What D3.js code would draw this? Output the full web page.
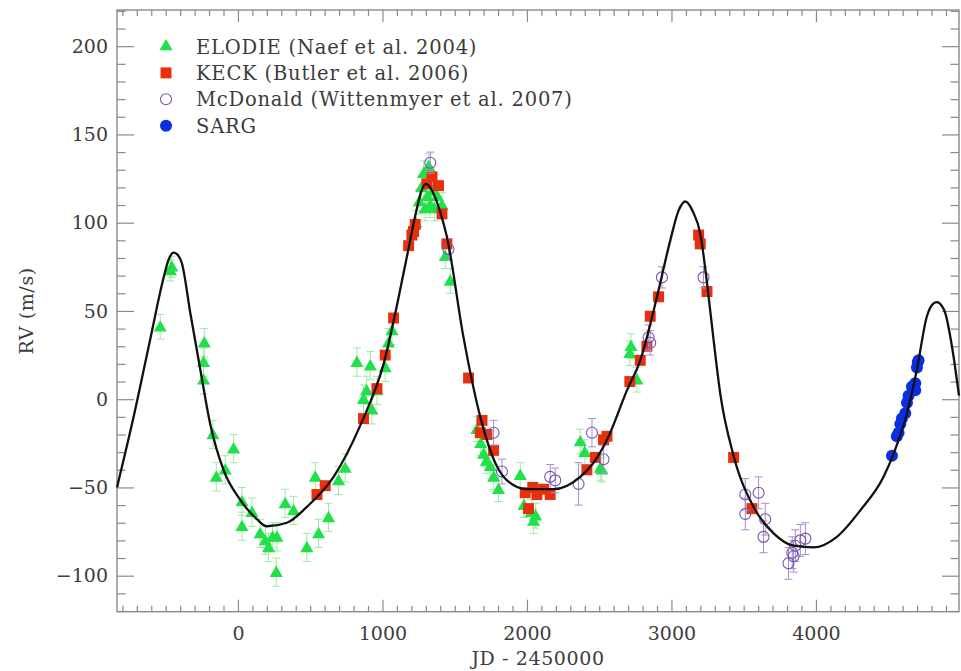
<!DOCTYPE html>
<html>
<head>
<meta charset="utf-8">
<script src="https://cdn.jsdelivr.net/npm/d3@7"></script>
<style>
  html, body { margin: 0; padding: 0; background: #fff; }
  svg { display: block; }
  text { font-family: "DejaVu Serif", serif; fill: #3c3c3c; }
</style>
</head>
<body>
<svg id="chart" width="961" height="671"></svg>
<script>
// Radial-velocity measurements: [JD - 2450000, RV (m/s), error (m/s)]
const elodie = [
  [-538, 41, 7], [-467, 73, 6], [-458, 75, 6], [-233, 32, 8], [-238, 21, 8], [-238, 11, 8],
  [-173, -20, 8], [-150, -44, 8], [-88, -40, 8], [-30, -28, 8], [28, -58, 8], [28, -72, 8],
  [97, -64, 8], [154, -76, 8], [190, -80, 8], [212, -84, 8], [240, -78, 8], [270, -78, 8],
  [265, -98, 8], [327, -59, 8], [385, -63, 8], [477, -84, 8], [535, -44, 8], [558, -76, 8],
  [627, -67, 8], [696, -46, 8], [742, -39, 8], [823, 21, 8], [916, 19, 8], [869, 0, 8],
  [890, 5, 8], [927, -6, 8], [962, 5, 8], [1019, 18, 8], [1042, 32, 8], [1066, 39, 8],
  [1230, 100, 7], [1255, 112, 7], [1270, 120, 7], [1285, 128, 7], [1295, 108, 7], [1310, 115, 7],
  [1320, 132, 7], [1330, 110, 7], [1345, 118, 7], [1360, 108, 7], [1380, 115, 7], [1412, 110, 7],
  [1435, 81, 7], [1469, 67, 7], [1654, -17, 7], [1680, -25, 7], [1700, -31, 7], [1720, -35, 7],
  [1746, -38, 7], [1770, -44, 7], [1803, -51, 7], [1954, -43, 7], [1980, -60, 7], [2030, -64, 7],
  [2046, -69, 7], [2060, -66, 7], [2369, -24, 7], [2400, -30, 7], [2508, -39, 7], [2519, -40, 7],
  [2712, 26, 7], [2720, 30, 7], [2761, 11, 7]
];
const keck = [
  [547, -54, 3], [604, -49, 3], [869, -11, 3], [962, 6, 3], [1019, 25, 3], [1077, 46, 3],
  [1181, 87, 3], [1204, 93, 3], [1215, 95, 3], [1227, 99, 3], [1308, 122, 3], [1343, 126, 3],
  [1388, 121, 3], [1412, 105, 3], [1446, 88, 3], [1596, 12, 3], [1677, -19, 3], [1689, -12, 3],
  [1723, -20, 3], [1769, -29, 3], [1988, -53, 3], [2011, -62, 3], [2040, -50, 3], [2069, -54, 3],
  [2115, -51, 3], [2161, -54, 3], [2415, -40, 3], [2473, -33, 3], [2530, -23, 3], [2554, -21, 3],
  [2712, 10, 3], [2784, 22, 3], [2830, 30, 3], [2853, 47, 3], [2911, 58, 3], [3188, 93, 3],
  [3199, 88, 3], [3246, 61, 3], [3430, -33, 3], [3557, -62, 3]
];
const mcdonald = [
  [1331, 134, 6], [1457, 85, 6], [1769, -19, 7], [1827, -41, 7], [2161, -44, 7], [2196, -46, 7],
  [2357, -48, 12], [2450, -19, 8], [2530, -34, 8], [2842, 35, 7], [2853, 32, 7], [2934, 69, 6],
  [3222, 69, 6], [3511, -54, 9], [3603, -53, 9], [3511, -65, 9], [3649, -68, 9], [3637, -78, 9],
  [3810, -93, 9], [3836, -87, 9], [3845, -89, 9], [3857, -83, 9], [3892, -80, 9], [3927, -79, 9]
];
const sarg = [
  [4526, -32, 2], [4560, -21, 2], [4572, -19, 2], [4584, -14, 2], [4595, -11, 2], [4618, -8, 2],
  [4630, -2, 2], [4641, 2, 2], [4664, 7, 2], [4687, 5, 2], [4687, 9, 2], [4699, 18, 2],
  [4705, 21, 2], [4710, 22, 2]
];
// Orbital fit, sampled along the time axis: [JD - 2450000, RV]
const orbitFit = [
  [-837, -50], [-722, -10], [-607, 34], [-520, 67], [-480, 79], [-446, 83], [-420, 82],
  [-388, 77], [-330, 49], [-261, 17], [-192, -14], [-100, -40], [16, -57], [131, -68],
  [200, -72], [339, -70], [477, -61], [662, -44], [846, -15], [1008, 20], [1170, 81],
  [1230, 105], [1270, 118], [1300, 122], [1330, 120], [1400, 106], [1446, 92], [1561, 35],
  [1677, -10], [1792, -38], [1862, -46], [2000, -51], [2184, -51], [2369, -44], [2461, -36],
  [2554, -23], [2692, 5], [2784, 22], [2900, 58], [2992, 90], [3050, 107], [3096, 112],
  [3150, 106], [3199, 94], [3246, 66], [3291, 34], [3338, 3], [3430, -32], [3568, -61],
  [3707, -76], [3845, -83], [3983, -84], [4145, -78], [4307, -63], [4468, -44], [4537, -31],
  [4630, -8], [4699, 17], [4768, 47], [4810, 54], [4837, 55], [4870, 53], [4894, 49],
  [4941, 30], [4990, 2]
];
const yMajor = [-100, -50, 0, 50, 100, 150, 200];
const xMajor = [0, 1000, 2000, 3000, 4000];
const legendLabels = [
  "ELODIE (Naef et al. 2004)",
  "KECK (Butler et al. 2006)",
  "McDonald (Wittenmyer et al. 2007)",
  "SARG"
];

const svg = d3.select("#chart");
const L = 117, R = 959, T = 10, B = 611.7;
const x = d3.scaleLinear().domain([-837, 4990]).range([L, R]);
const y = d3.scaleLinear().domain([-120.4, 220.5]).range([B, T]);

const yMinor = d3.range(-120, 221, 10).filter(v => !yMajor.includes(v));
const xMinor = d3.range(-800, 4991, 100).filter(v => !xMajor.includes(v));

const axisColor = "#8a8a8a";
const labelFont = "19px";
function styleAxis(g) {
  g.select(".domain").remove();
  g.selectAll(".tick line").attr("stroke", axisColor).attr("stroke-width", 1.2);
  g.selectAll(".tick text").style("font-family", "DejaVu Serif, serif").style("font-size", labelFont)
    .attr("fill", "#3c3c3c");
}
const numFmt = d => d < 0 ? "\u2212" + Math.abs(d) : String(d);

// inward-pointing ticks on all four sides
svg.append("g").attr("transform", `translate(${L},0)`)
  .call(d3.axisLeft(y).tickValues(yMajor).tickSize(-17).tickPadding(9).tickFormat(numFmt))
  .call(styleAxis);
svg.append("g").attr("transform", `translate(${L},0)`)
  .call(d3.axisLeft(y).tickValues(yMinor).tickSize(-8.5).tickFormat("")).call(styleAxis);
svg.append("g").attr("transform", `translate(${R},0)`)
  .call(d3.axisRight(y).tickValues(yMajor).tickSize(-17).tickFormat("")).call(styleAxis);
svg.append("g").attr("transform", `translate(${R},0)`)
  .call(d3.axisRight(y).tickValues(yMinor).tickSize(-8.5).tickFormat("")).call(styleAxis);
svg.append("g").attr("transform", `translate(0,${B})`)
  .call(d3.axisBottom(x).tickValues(xMajor).tickSize(-12).tickPadding(15).tickFormat(numFmt))
  .call(styleAxis);
svg.append("g").attr("transform", `translate(0,${B})`)
  .call(d3.axisBottom(x).tickValues(xMinor).tickSize(-6).tickFormat("")).call(styleAxis);
svg.append("g").attr("transform", `translate(0,${T})`)
  .call(d3.axisTop(x).tickValues(xMajor).tickSize(-12).tickFormat("")).call(styleAxis);
svg.append("g").attr("transform", `translate(0,${T})`)
  .call(d3.axisTop(x).tickValues(xMinor).tickSize(-6).tickFormat("")).call(styleAxis);

svg.append("rect").attr("x", L).attr("y", T).attr("width", R - L).attr("height", B - T)
  .attr("fill", "none").attr("stroke", axisColor).attr("stroke-width", 1.4);

// axis titles
svg.append("text").attr("x", (L + R) / 2).attr("y", 665).attr("text-anchor", "middle")
  .style("font-size", labelFont).style("letter-spacing", "0.6px").text("JD - 2450000");
svg.append("text").attr("transform", `translate(33,${(T + B) / 2}) rotate(-90)`)
  .attr("text-anchor", "middle").style("font-size", labelFont).style("letter-spacing", "0.6px").text("RV (m/s)");

const plot = svg.append("g");

function errorBars(data, color) {
  const g = plot.append("g").attr("stroke", color).attr("stroke-width", 1).attr("fill", "none");
  data.forEach(d => {
    const cx = x(d[0]), y0 = y(d[1] - d[2]), y1 = y(d[1] + d[2]);
    g.append("line").attr("x1", cx).attr("x2", cx).attr("y1", y0).attr("y2", y1);
    g.append("line").attr("x1", cx - 4).attr("x2", cx + 4).attr("y1", y0).attr("y2", y0);
    g.append("line").attr("x1", cx - 4).attr("x2", cx + 4).attr("y1", y1).attr("y2", y1);
  });
}

const green = "#22e04a", red = "#e8300e", purple = "#7a52b0", blue = "#0a2ee0";
const triangle = d3.symbol().type(d3.symbolTriangle).size(75);
const square = d3.symbol().type(d3.symbolSquare).size(120);

errorBars(elodie, "#9fe9a8");
plot.append("g").selectAll("path").data(elodie).join("path")
  .attr("d", triangle).attr("transform", d => `translate(${x(d[0])},${y(d[1]) + 1})`)
  .attr("fill", green);

plot.append("g").selectAll("path").data(keck).join("path")
  .attr("d", square).attr("transform", d => `translate(${x(d[0])},${y(d[1])})`)
  .attr("fill", red);

errorBars(mcdonald, "#a690cc");
plot.append("g").selectAll("circle").data(mcdonald).join("circle")
  .attr("cx", d => x(d[0])).attr("cy", d => y(d[1])).attr("r", 5.5)
  .attr("fill", "none").attr("stroke", purple).attr("stroke-width", 1.1);

plot.append("g").selectAll("circle").data(sarg).join("circle")
  .attr("cx", d => x(d[0])).attr("cy", d => y(d[1])).attr("r", 6)
  .attr("fill", blue);

// fitted orbit
plot.append("path").datum(orbitFit)
  .attr("d", d3.line().x(d => x(d[0])).y(d => y(d[1])).curve(d3.curveMonotoneX))
  .attr("fill", "none").attr("stroke", "#111").attr("stroke-width", 2.3);

// legend
const legend = svg.append("g");
const legendMarks = [
  g => g.append("path").attr("d", triangle).attr("fill", green),
  g => g.append("path").attr("d", square).attr("fill", red),
  g => g.append("circle").attr("r", 5.5).attr("fill", "none").attr("stroke", purple).attr("stroke-width", 1.1),
  g => g.append("circle").attr("r", 6).attr("fill", blue)
];
legendLabels.forEach((label, i) => {
  const row = legend.append("g").attr("transform", `translate(166,${46.5 + i * 26.4})`);
  legendMarks[i](row);
  row.append("text").attr("x", 30).attr("y", 7).style("font-size", "19.5px")
    .style("letter-spacing", "0.8px").text(label);
});
</script>
</body>
</html>
